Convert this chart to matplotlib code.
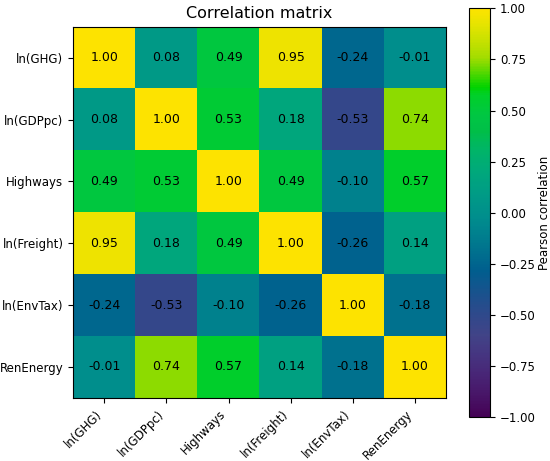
import numpy as np
import matplotlib
matplotlib.use('Agg')
import matplotlib.pyplot as plt
from matplotlib.colors import ListedColormap, rgb_to_hsv, hsv_to_rgb

# Variables and correlation values
labels = ['ln(GHG)', 'ln(GDPpc)', 'Highways', 'ln(Freight)', 'ln(EnvTax)', 'RenEnergy']
row_ghg = [1.00, 0.08, 0.49, 0.95, -0.24, -0.01]
row_gdp = [0.08, 1.00, 0.53, 0.18, -0.53, 0.74]
row_hwy = [0.49, 0.53, 1.00, 0.49, -0.10, 0.57]
row_frt = [0.95, 0.18, 0.49, 1.00, -0.26, 0.14]
row_tax = [-0.24, -0.53, -0.10, -0.26, 1.00, -0.18]
row_ren = [-0.01, 0.74, 0.57, 0.14, -0.18, 1.00]


# viridis, but with the more saturated greens seen in the reference
def vivid_viridis():
    pos = np.linspace(0, 1, 256)
    rgb = plt.get_cmap('viridis')(pos)[:, :3]
    hsv = rgb_to_hsv(rgb)
    boost = 1 + 0.9 * np.clip((pos - 0.2) / 0.3, 0, 1)
    hsv[:, 1] = np.clip(hsv[:, 1] * boost, 0, 1)
    # push the mid greens a little towards emerald
    shift = 0.075 * np.clip(1 - np.abs(pos - 0.79) / 0.09, 0, 1)
    hsv[:, 0] = (hsv[:, 0] + shift) % 1
    return ListedColormap(hsv_to_rgb(hsv))


def main():
    corr = np.array([row_ghg, row_gdp, row_hwy, row_frt, row_tax, row_ren])

    plt.rcParams['font.size'] = 8.5
    fig = plt.figure(figsize=(5.5, 4.61), dpi=100)
    ax = fig.add_axes([0.133, 0.137, 0.678, 0.805])
    cax = fig.add_axes([0.853, 0.095, 0.038, 0.887])

    im = ax.imshow(corr, cmap=vivid_viridis(), vmin=-1, vmax=1, aspect='auto')

    # Annotate each cell
    for i in range(corr.shape[0]):
        for j in range(corr.shape[1]):
            ax.text(j, i, f"{corr[i, j]:.2f}", ha='center', va='center',
                    color='black', fontsize=9)

    ax.set_xticks(range(len(labels)))
    ax.set_yticks(range(len(labels)))
    ax.set_xticklabels(labels, rotation=45, ha='right')
    ax.set_yticklabels(labels)
    ax.set_title('Correlation matrix', fontsize=11.5)

    cbar = fig.colorbar(im, cax=cax)
    cbar.set_label('Pearson correlation', fontsize=8.5, labelpad=2)
    ticks = np.arange(-1, 1.01, 0.25)
    cbar.set_ticks(ticks)
    cbar.ax.set_yticklabels([f"{t:.2f}".replace('-', '\u2212') for t in ticks])

    fig.savefig('out.png', dpi=100)


if __name__ == "__main__":
    main()
